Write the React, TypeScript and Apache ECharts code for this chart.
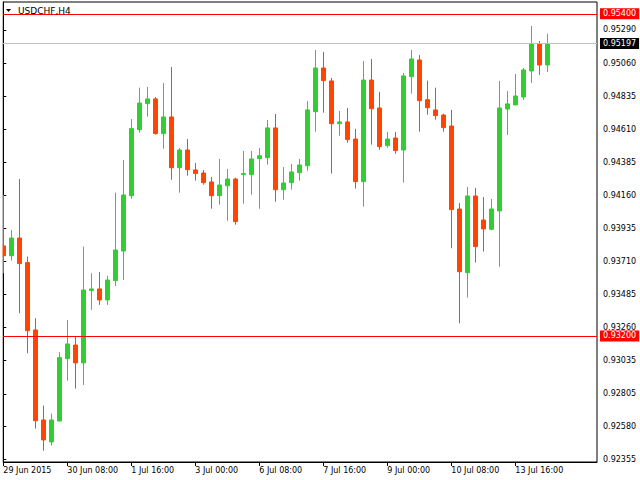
import React, { useEffect, useRef } from 'react';
import * as echarts from 'echarts';

const symbolName = 'USDCHF,H4';

const opens = [
  0.93815, 0.93748, 0.93869, 0.93701, 0.93241, 0.92626, 0.92476, 0.92619, 0.93045, 0.93138,
  0.93016, 0.93511, 0.93521, 0.93446, 0.93578, 0.93780, 0.94158, 0.94609, 0.94787, 0.94819,
  0.94582, 0.94696, 0.94349, 0.94470, 0.94334, 0.94313, 0.94252, 0.94158, 0.94226, 0.94272,
  0.94302, 0.94302, 0.94411, 0.94418, 0.94621, 0.94199, 0.94247, 0.94315, 0.94363, 0.94732,
  0.95030, 0.94942, 0.94650, 0.94662, 0.94545, 0.94254, 0.94948, 0.94757, 0.94500, 0.94552,
  0.94470, 0.94971, 0.95085, 0.94814, 0.94744, 0.94709, 0.94634, 0.94067, 0.93632, 0.94156,
  0.93992, 0.93929, 0.94054, 0.94750, 0.94778, 0.94832, 0.95010, 0.95196, 0.95051,
];
const closes = [
  0.93748, 0.93869, 0.93694, 0.93236, 0.92621, 0.92490, 0.92626, 0.93052, 0.93145, 0.93016,
  0.93514, 0.93521, 0.93446, 0.93582, 0.93787, 0.94163, 0.94616, 0.94791, 0.94819, 0.94582,
  0.94696, 0.94349, 0.94470, 0.94336, 0.94309, 0.94247, 0.94158, 0.94231, 0.94272, 0.93981,
  0.94309, 0.94409, 0.94431, 0.94621, 0.94199, 0.94245, 0.94320, 0.94368, 0.94744, 0.95030,
  0.94944, 0.94650, 0.94662, 0.94541, 0.94254, 0.94948, 0.94752, 0.94493, 0.94545, 0.94466,
  0.94976, 0.95092, 0.94807, 0.94759, 0.94705, 0.94623, 0.94063, 0.93639, 0.94156, 0.93810,
  0.93931, 0.94067, 0.94757, 0.94785, 0.94839, 0.95017, 0.95196, 0.95051, 0.95197,
];
const lows = [
  0.93628, 0.93714, 0.93355, 0.93082, 0.92567, 0.92416, 0.92451, 0.92617, 0.92895, 0.92840,
  0.92865, 0.93378, 0.93412, 0.93412, 0.93541, 0.93582, 0.94136, 0.94589, 0.94698, 0.94575,
  0.94479, 0.94267, 0.94179, 0.94295, 0.94261, 0.94233, 0.94069, 0.94097, 0.93987, 0.93960,
  0.94104, 0.94165, 0.94069, 0.94370, 0.94117, 0.94131, 0.94199, 0.94261, 0.94329, 0.94595,
  0.94725, 0.94309, 0.94568, 0.94520, 0.94206, 0.94083, 0.94507, 0.94472, 0.94486, 0.94445,
  0.94247, 0.94855, 0.94595, 0.94711, 0.94677, 0.94595, 0.93799, 0.93287, 0.93462, 0.93701,
  0.93776, 0.93921, 0.93673, 0.94573, 0.94776, 0.94812, 0.94928, 0.94983, 0.95003,
];
const highs = [
  0.94163, 0.93924, 0.94272, 0.93742, 0.93321, 0.92724, 0.92669, 0.93089, 0.93309, 0.93195,
  0.93810, 0.93628, 0.93637, 0.93610, 0.94179, 0.94402, 0.94682, 0.94896, 0.94901, 0.94832,
  0.94928, 0.95037, 0.94484, 0.94545, 0.94382, 0.94334, 0.94286, 0.94409, 0.94341, 0.94281,
  0.94464, 0.94464, 0.94484, 0.94675, 0.94716, 0.94354, 0.94375, 0.94409, 0.94805, 0.95153,
  0.95140, 0.94962, 0.94737, 0.94757, 0.94614, 0.95078, 0.95092, 0.94867, 0.94593, 0.94593,
  0.94996, 0.95153, 0.95119, 0.94944, 0.94896, 0.94718, 0.94744, 0.94108, 0.94218, 0.94211,
  0.94149, 0.94136, 0.94942, 0.94873, 0.94989, 0.95030, 0.95317, 0.95215, 0.95265,
];

const xTickIndices = [0, 8, 16, 24, 32, 40, 48, 56, 64];
const xTickLabels = [
  '29 Jun 2015', '30 Jun 08:00', '1 Jul 16:00', '3 Jul 00:00', '6 Jul 08:00',
  '7 Jul 16:00', '9 Jul 00:00', '10 Jul 08:00', '13 Jul 16:00',
];
const yTickValues = [
  0.95290, 0.95060, 0.94835, 0.94610, 0.94385, 0.94160, 0.93935, 0.93710, 0.93485,
  0.93260, 0.93035, 0.92805, 0.92580, 0.92355,
];
const levelLines = [0.95400, 0.93200];
const bidPrice = 0.95197;

const FONT = '"DejaVu Sans", Tahoma, sans-serif';

export default function App() {
  const ref = useRef<HTMLDivElement>(null);

  useEffect(() => {
    if (!ref.current) return;
    const chart = echarts.init(ref.current, null, { renderer: 'svg' });
    const data = opens.map((o, i) => [i, o, closes[i], lows[i], highs[i]]);

    const markData: any[] = [
      {
        yAxis: bidPrice,
        lineStyle: { color: '#C0C0C0', width: 1, type: 'solid' },
        label: {
          formatter: bidPrice.toFixed(5),
          backgroundColor: '#000000',
          color: '#FFFFFF',
        },
      },
    ];
    levelLines.forEach((v) =>
      markData.push({
        yAxis: v,
        lineStyle: { color: '#FF0000', width: 1, type: 'solid' },
        label: {
          formatter: v.toFixed(5),
          backgroundColor: '#FF0000',
          color: '#FFFFFF',
        },
      })
    );

    chart.setOption({
      animation: false,
      backgroundColor: '#FFFFFF',
      grid: {
        left: 3,
        right: 43,
        top: 2,
        bottom: 18,
        show: true,
        borderColor: '#000000',
        borderWidth: 1,
        backgroundColor: 'transparent',
      },
      xAxis: {
        type: 'value',
        min: -0.0375,
        max: 74.2125,
        axisLine: { show: true, onZero: false, lineStyle: { color: '#000000', width: 1 } },
        axisTick: {
          show: true,
          length: 4,
          customValues: xTickIndices,
          lineStyle: { color: '#000000' },
        },
        axisLabel: {
          customValues: xTickIndices,
          formatter: (v: number) => {
            const idx = xTickIndices.indexOf(Math.round(v));
            return idx >= 0 ? xTickLabels[idx] : '';
          },
          align: 'left',
          margin: 4,
          fontSize: 8,
          fontFamily: FONT,
          color: '#000000',
        },
        splitLine: { show: false },
      },
      yAxis: {
        type: 'value',
        position: 'right',
        min: 0.92339,
        max: 0.95481,
        axisLine: { show: true, lineStyle: { color: '#000000', width: 1 } },
        axisTick: {
          show: true,
          length: 3,
          customValues: yTickValues,
          lineStyle: { color: '#000000' },
        },
        axisLabel: {
          customValues: yTickValues,
          formatter: (v: number) => v.toFixed(5),
          margin: 6,
          fontSize: 8,
          fontFamily: FONT,
          color: '#000000',
        },
        splitLine: { show: false },
      },
      series: [
        {
          type: 'candlestick',
          data,
          barWidth: 4,
          itemStyle: {
            color: '#32CD32',
            color0: '#FF4500',
            borderColor: '#32CD32',
            borderColor0: '#FF4500',
            borderWidth: 1,
          },
          markLine: {
            silent: true,
            precision: 5,
            symbol: ['none', 'none'],
            animation: false,
            label: {
              show: true,
              position: 'end',
              distance: 3,
              fontSize: 8,
              fontFamily: FONT,
              padding: [2, 3, 1, 3],
            },
            data: markData,
          },
        },
      ],
      graphic: [
        {
          type: 'rect',
          shape: { x: 0, y: 0, width: 2.5, height: 480 },
          style: { fill: '#FFFFFF' },
          z: 100,
        },
        {
          type: 'polygon',
          shape: { points: [[6, 9], [11, 9], [8.5, 12]] },
          style: { fill: '#000000' },
          z: 100,
        },
        {
          type: 'text',
          x: 18,
          y: 10.5,
          z: 100,
          style: {
            text: symbolName,
            fontSize: 9,
            fontFamily: FONT,
            fill: '#000000',
            verticalAlign: 'middle',
          },
        },
      ],
    });

    return () => chart.dispose();
  }, []);

  return (
    <div
      ref={ref}
      style={{ position: 'absolute', left: 0, top: 0, width: 640, height: 480, background: '#fff' }}
    />
  );
}
